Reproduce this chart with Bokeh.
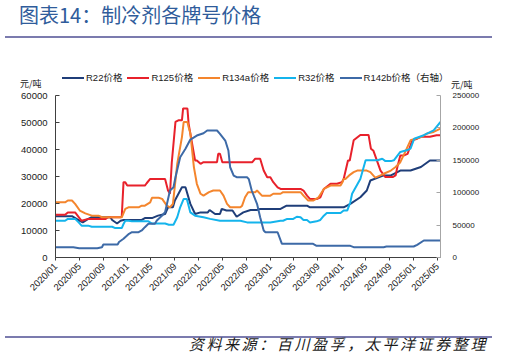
import pandas as pd
from math import pi
from bokeh.plotting import figure
from bokeh.layouts import column
from bokeh.models import (Range1d, LinearAxis, FixedTicker, NumeralTickFormatter,
                          DatetimeTickFormatter, Div)
from bokeh.embed import file_html
from bokeh.resources import INLINE

# ---------------- data (元/吨) ----------------
r22_dates = ["2020-01-01", "2020-03-25", "2020-05-04", "2020-05-19", "2020-06-16", "2020-07-04",
             "2020-10-07", "2020-10-16", "2020-11-10", "2020-11-28", "2020-12-13", "2021-03-16",
             "2021-04-01", "2021-05-07", "2021-06-07", "2021-07-13", "2021-07-28", "2021-08-22",
             "2021-09-01", "2021-10-07", "2021-10-25", "2021-11-19", "2021-12-13", "2022-01-10",
             "2022-02-16", "2022-02-25", "2022-03-25", "2022-04-19", "2022-04-28", "2022-05-22",
             "2022-06-22", "2022-07-13", "2022-08-16", "2022-09-22", "2022-10-25", "2022-11-10",
             "2023-02-22", "2023-03-25", "2023-07-07", "2023-07-22", "2024-01-10", "2024-02-13",
             "2024-04-04", "2024-05-07", "2024-05-25", "2024-08-01", "2024-09-07", "2024-10-25",
             "2024-12-16", "2025-02-07", "2025-03-25", "2025-05-18"]
r22_values = [15300, 15300, 13600, 13000, 14300, 14900,
              14900, 13900, 12600, 13600, 13900, 13900,
              14600, 14600, 15500, 16100, 18600, 18600,
              21100, 26000, 26000, 19850, 16100, 16700,
              16700, 17600, 16100, 16100, 18000, 17400,
              17400, 15100, 16700, 17600, 17600, 18000,
              18000, 19200, 19200, 18600, 18600, 19850,
              22300, 24800, 28500, 30400, 30400, 32200,
              32200, 33500, 35950, 35950]

r125_dates = ["2020-01-01", "2020-02-19", "2020-03-04", "2020-04-10", "2020-05-13", "2020-06-16",
              "2020-09-13", "2020-09-25", "2020-11-28", "2020-12-04", "2020-12-13", "2020-12-22",
              "2021-01-01", "2021-04-01", "2021-04-10", "2021-04-28", "2021-07-13", "2021-07-28",
              "2021-08-07", "2021-08-16", "2021-09-04", "2021-09-19", "2021-10-07", "2021-10-13",
              "2021-11-04", "2021-11-10", "2021-12-13", "2021-12-22", "2022-01-10", "2022-01-25",
              "2022-04-04", "2022-04-10", "2022-04-19", "2022-05-01", "2022-10-01", "2022-10-16",
              "2022-11-10", "2022-11-28", "2022-12-16", "2023-01-01", "2023-01-16", "2023-02-07",
              "2023-02-22", "2023-06-04", "2023-06-19", "2023-07-07", "2023-07-22", "2023-08-28",
              "2023-09-13", "2023-10-01", "2023-11-04", "2023-12-07", "2024-01-01", "2024-01-10",
              "2024-02-01", "2024-02-10", "2024-03-01", "2024-04-04", "2024-05-16", "2024-05-28",
              "2024-06-10", "2024-07-16", "2024-08-10", "2024-09-16", "2024-10-01", "2024-10-10",
              "2024-10-25", "2024-11-13", "2024-12-01", "2024-12-25", "2025-01-19", "2025-02-07",
              "2025-03-25", "2025-04-28", "2025-05-18"]
r125_values = [15800, 15800, 16700, 16700, 13600, 14300,
               14300, 14900, 14900, 15200, 27900, 27900,
               26650, 26650, 27500, 29100, 29100, 24800,
               23600, 35000, 50200, 50800, 50800, 55200,
               55200, 49600, 35950, 35950, 34700, 35300,
               35300, 38400, 38400, 35300, 35300, 36600,
               36600, 32200, 29700, 29700, 27900, 26000,
               25400, 25400, 24800, 22900, 21700, 21700,
               22300, 25400, 27300, 27300, 27900, 29100,
               35950, 35950, 43400, 45400, 45400, 40300,
               39500, 32200, 29800, 29800, 30400, 33500,
               37800, 37800, 38400, 43400, 44000, 44700,
               44700, 45300, 45300]

r134a_dates = ["2020-01-01", "2020-02-19", "2020-03-04", "2020-03-25", "2020-04-10", "2020-05-04",
               "2020-06-01", "2020-07-04", "2020-08-07", "2020-08-25", "2020-12-04", "2020-12-22",
               "2021-01-07", "2021-02-28", "2021-03-16", "2021-04-01", "2021-04-28", "2021-05-07",
               "2021-06-10", "2021-06-28", "2021-07-22", "2021-08-07", "2021-08-22", "2021-09-13",
               "2021-09-19", "2021-10-07", "2021-10-16", "2021-11-04", "2021-11-10", "2021-11-19",
               "2021-12-07", "2021-12-22", "2022-01-10", "2022-01-25", "2022-02-22", "2022-03-16",
               "2022-04-19", "2022-05-07", "2022-05-25", "2022-06-10", "2022-08-01", "2022-08-10",
               "2022-08-25", "2022-09-10", "2022-10-16", "2022-10-25", "2022-11-19", "2023-01-01",
               "2023-01-16", "2023-02-22", "2023-03-07", "2023-06-04", "2023-06-19", "2023-07-13",
               "2023-08-07", "2023-09-04", "2023-10-01", "2023-11-04", "2023-12-25", "2024-01-04",
               "2024-01-10", "2024-01-19", "2024-02-07", "2024-03-01", "2024-03-19", "2024-05-07",
               "2024-05-25", "2024-06-19", "2024-07-16", "2024-08-10", "2024-09-07", "2024-10-01",
               "2024-10-25", "2024-11-19", "2024-12-16", "2025-01-10", "2025-02-07", "2025-03-10",
               "2025-04-13", "2025-05-18"]
r134a_values = [20450, 20450, 21100, 21100, 19850, 17400,
                16350, 15500, 15500, 14900, 14900, 18000,
                18600, 18600, 19200, 19200, 20450, 22100,
                22100, 21700, 19200, 18600, 19850, 34700,
                37200, 44600, 50200, 50200, 48300, 45900,
                33500, 27300, 23600, 22900, 24200, 24800,
                24800, 22900, 19850, 18600, 18600, 19200,
                22300, 24200, 24200, 24800, 22900, 22900,
                23600, 23600, 24200, 24200, 22900, 21100,
                21100, 22300, 25400, 26650, 26650, 27900,
                29100, 29100, 30400, 31600, 32200, 32200,
                31600, 29600, 30400, 31300, 32200, 33500,
                35300, 39100, 43400, 44000, 44600, 45900,
                46500, 47700]

r32_dates = ["2020-01-01", "2020-02-19", "2020-03-04", "2020-04-10", "2020-04-28", "2020-05-13",
             "2020-06-16", "2020-07-04", "2020-10-16", "2020-11-01", "2020-12-04", "2020-12-13",
             "2020-12-22", "2021-01-07", "2021-01-25", "2021-04-19", "2021-05-07", "2021-07-13",
             "2021-08-01", "2021-08-25", "2021-09-13", "2021-09-28", "2021-10-16", "2021-11-01",
             "2021-11-19", "2021-12-13", "2022-01-25", "2022-02-28", "2022-04-19", "2022-08-01",
             "2022-09-04", "2023-01-01", "2023-02-22", "2023-03-07", "2023-03-28", "2023-04-28",
             "2023-05-16", "2023-06-04", "2023-06-19", "2023-07-07", "2023-07-22", "2023-08-25",
             "2023-09-13", "2023-10-01", "2023-10-16", "2023-12-25", "2024-01-10", "2024-01-28",
             "2024-02-13", "2024-02-22", "2024-04-04", "2024-05-01", "2024-07-01", "2024-07-25",
             "2024-08-10", "2024-09-07", "2024-09-22", "2024-10-25", "2024-12-01", "2024-12-16",
             "2025-01-04", "2025-02-22", "2025-04-13", "2025-05-18"]
r32_values = [13600, 13600, 14300, 14300, 13000, 11800,
              11800, 11400, 11400, 10900, 10900, 12400,
              13600, 13600, 13400, 13400, 12600, 12600,
              12150, 12150, 14900, 18600, 21700, 21700,
              16700, 15500, 14900, 14300, 13600, 13600,
              13000, 13000, 13600, 13600, 14300, 14300,
              15100, 14900, 13900, 13900, 13000, 13400,
              13900, 15500, 16500, 16500, 17400, 17400,
              20450, 23600, 29100, 36000, 36000, 36600,
              35700, 35700, 36000, 39100, 39800, 40300,
              44000, 45300, 47100, 50200]

# R142b price, right axis
r142b_dates = ["2020-01-01", "2020-04-01", "2020-05-01", "2020-08-01", "2020-08-25", "2020-09-01",
               "2020-11-13", "2020-11-20", "2020-12-13", "2021-01-10", "2021-01-25", "2021-02-28",
               "2021-03-16", "2021-04-01", "2021-04-19", "2021-05-22", "2021-06-01", "2021-06-28",
               "2021-07-13", "2021-08-07", "2021-08-25", "2021-09-04", "2021-09-28", "2021-10-25",
               "2021-11-19", "2021-12-22", "2022-01-25", "2022-02-13", "2022-04-04", "2022-04-19",
               "2022-05-16", "2022-06-01", "2022-06-10", "2022-06-28", "2022-07-13", "2022-09-04",
               "2022-09-13", "2022-09-28", "2022-10-25", "2022-11-10", "2022-11-28", "2022-12-07",
               "2023-02-07", "2023-03-01", "2023-08-07", "2023-08-25", "2024-02-13", "2024-03-01",
               "2024-08-01", "2024-08-15", "2025-01-01", "2025-01-19", "2025-02-22", "2025-05-18"]
r142b_values = [15900, 15900, 14400, 14400, 15900, 20000,
                20000, 24000, 28900, 36600, 39000, 39000,
                41700, 46800, 52000, 52000, 57100, 64800,
                69900, 103400, 108500, 123900, 154800, 167700,
                182000, 188200, 191800, 196000, 196000, 190900,
                180500, 165100, 139300, 126500, 123900, 123900,
                121000, 103400, 82900, 62200, 41700, 39000,
                39000, 21100, 21100, 18000, 18000, 15900,
                15900, 17000, 17000, 19600, 26200, 26200]

series_names = ["R22价格", "R125价格", "R134a价格", "R32价格", "R142b价格（右轴）"]
series_colors = ["#1F3E79", "#E8212B", "#F4852D", "#14B4EC", "#3D6AA7"]

x_tick_months = ["2020-01", "2020-05", "2020-09", "2021-01", "2021-05", "2021-09", "2022-01",
                 "2022-05", "2022-09", "2023-01", "2023-05", "2023-09", "2024-01", "2024-05",
                 "2024-09", "2025-01", "2025-05"]
left_ticks = [0, 10000, 20000, 30000, 40000, 50000, 60000]
right_ticks = [0, 50000, 100000, 150000, 200000, 250000]

title_text = "图表14：制冷剂各牌号价格"
unit_text = "元/吨"
source_text = "资料来源：百川盈孚，太平洋证券整理"

W = 507
LATIN = "Liberation Sans"
CJK = "Noto Sans CJK SC"
RULE = "#7B7BAE"


def rule_html(top_px, width=487, seg=22):
    # horizontal rule built from short filled segments (same technique as the legend swatches),
    # plus an inline SVG bar at the same place
    n_full, rest = divmod(width, seg)
    widths = [seg] * n_full + ([rest] if rest else [])
    spans = "".join(f'<span style="display:inline-block;flex:none;width:{w}px;height:2px;'
                    f'background-color:{RULE};"></span>' for w in widths)
    svg = (f'<svg width="{width}" height="2" style="position:absolute;left:0;top:0;">'
           f'<rect x="0" y="0" width="{width}" height="2" fill="{RULE}"></rect></svg>')
    return (f'<div style="position:absolute;left:5px;top:{top_px}px;width:{width}px;height:2px;'
            f'display:flex;align-items:center;">{spans}{svg}</div>')


# ---------------- header (title + rule, units, legend) ----------------
legend_items = "".join(
    f'<div style="display:flex;align-items:center;">'
    f'<span style="display:inline-block;width:22px;height:2px;background-color:{c};"></span>'
    f'<span style="margin-left:2px;white-space:nowrap;">{n}</span></div>'
    for n, c in zip(series_names, series_colors))
header_html = (
    f'<div style="position:relative;width:{W}px;height:90px;'
    f'font-family:\'{LATIN}\',\'{CJK}\',sans-serif;color:#1a1a1a;">'
    f'<div style="position:absolute;left:19px;top:1px;font-family:\'{CJK}\';font-size:20px;'
    f'line-height:28px;color:#2F5C9B;white-space:nowrap;">{title_text}</div>'
    + rule_html(36) +
    f'<div style="position:absolute;left:20px;top:78px;font-family:\'{CJK}\';font-size:9px;'
    f'line-height:12px;white-space:nowrap;">{unit_text}</div>'
    f'<div style="position:absolute;left:451px;top:79px;font-family:\'{CJK}\';font-size:9px;'
    f'line-height:12px;white-space:nowrap;">{unit_text}</div>'
    f'<div style="position:absolute;left:62px;top:72px;display:flex;gap:5px;font-size:9.5px;'
    f'line-height:12px;">{legend_items}</div>'
    f'</div>')
header = Div(text=header_html, width=W, height=90, margin=0)

# ---------------- main chart ----------------
x_start = pd.Timestamp("2020-01-01")
x_end = pd.Timestamp("2025-05-18")
p = figure(width=W, height=240, x_axis_type="datetime",
           x_range=Range1d(x_start, x_end), y_range=Range1d(0, 60000),
           output_backend="svg", toolbar_location=None,
           min_border_left=55, min_border_right=67, min_border_top=5, min_border_bottom=73)
p.extra_y_ranges = {"right": Range1d(0, 250000)}
p.grid.visible = False
p.outline_line_color = None

all_dates = [r22_dates, r125_dates, r134a_dates, r32_dates, r142b_dates]
all_values = [r22_values, r125_values, r134a_values, r32_values, r142b_values]
for i, (d, v) in enumerate(zip(all_dates, all_values)):
    kw = {"y_range_name": "right"} if i == 4 else {}
    p.line(x=pd.to_datetime(d), y=v, line_color=series_colors[i], line_width=2, **kw)

# x axis
xa = p.xaxis[0]
xa.ticker = FixedTicker(ticks=[pd.Timestamp(m + "-01").value // 10**6 for m in x_tick_months])
xa.formatter = DatetimeTickFormatter(months="%Y/%m", days="%Y/%m", years="%Y/%m", hours="%Y/%m")
xa.major_label_orientation = pi / 4
xa.major_label_text_font = LATIN
xa.major_label_text_font_size = "9.5px"
xa.major_label_text_color = "#1a1a1a"
xa.major_tick_in = 0
xa.major_tick_out = 3
xa.minor_tick_in = 0
xa.minor_tick_out = 0
xa.axis_line_color = "#404040"
xa.major_tick_line_color = "#404040"
xa.major_label_standoff = 4

# left axis
ya = p.yaxis[0]
ya.ticker = FixedTicker(ticks=left_ticks)
ya.formatter = NumeralTickFormatter(format="0")
ya.major_label_text_font = LATIN
ya.major_label_text_font_size = "9.5px"
ya.major_label_text_color = "#1a1a1a"
ya.major_tick_in = 4
ya.major_tick_out = 0
ya.minor_tick_in = 0
ya.minor_tick_out = 0
ya.axis_line_color = "#404040"
ya.major_tick_line_color = "#404040"
ya.major_label_standoff = 8

# right axis
ra = LinearAxis(y_range_name="right", ticker=FixedTicker(ticks=right_ticks),
                formatter=NumeralTickFormatter(format="0"))
ra.major_label_text_font = LATIN
ra.major_label_text_font_size = "8px"
ra.major_label_text_color = "#1a1a1a"
ra.major_tick_in = 4
ra.major_tick_out = 0
ra.minor_tick_in = 0
ra.minor_tick_out = 0
ra.axis_line_color = "#A6A6A6"
ra.major_tick_line_color = "#A6A6A6"
ra.major_label_standoff = 12
p.add_layout(ra, "right")

# ---------------- footer (rule + source) ----------------
footer_html = (
    f'<div style="position:relative;width:{W}px;height:25px;">'
    + rule_html(6) +
    f'<div style="position:absolute;left:5px;top:8px;width:485px;padding-right:2px;'
    f'text-align:right;font-family:\'{CJK}\';font-size:15px;'
    f'letter-spacing:2.6px;font-style:italic;line-height:11px;color:#1a1a1a;white-space:nowrap;">'
    f'{source_text}</div>'
    f'</div>')
footer = Div(text=footer_html, width=W, height=25, margin=0)

layout = column(header, p, footer, spacing=0)
open("out.html", "w").write(file_html(layout, INLINE))
